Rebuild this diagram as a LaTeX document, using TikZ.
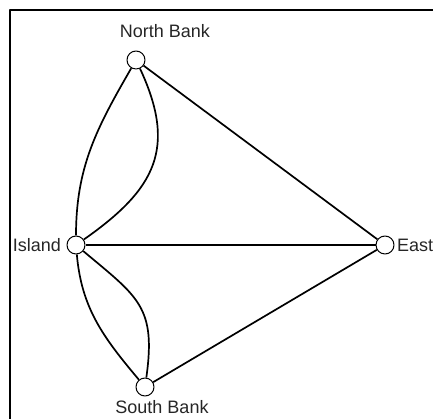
\documentclass[tikz,border=0pt]{standalone}
\usepackage{fontspec}
\setmainfont{Liberation Sans}
\begin{document}
\begin{tikzpicture}[x=1pt,y=1pt,line join=round,
  vertex/.style={circle,draw,fill=white,inner sep=0pt,minimum size=18pt,line width=1pt},
  bridge/.style={line width=1.7pt},
  place/.style={font=\fontsize{18}{21}\selectfont,text=black!85,inner sep=0pt}]
  \useasboundingbox (0,0) rectangle (433,419);
  \draw[line width=2pt] (10,0) -- (10,409) -- (433,409);
  % land masses
  \node[vertex] (N) at (136,359) {};
  \node[vertex] (I) at (76,174) {};
  \node[vertex] (E) at (385,174) {};
  \node[vertex] (S) at (145,32) {};
  \node[place] (Nl) at (165,388) {North Bank};
  \node[place] (Sl) at (162,12) {South Bank};
  \node[place,anchor=east] (Il) at (61,174) {Island};
  \node[place,anchor=west] (El) at (397,174) {East};
  % bridges
  \draw[bridge] (I) to[out=90,in=240] (N);
  \draw[bridge] (I) to[out=35,in=-65,looseness=1.25] (N);
  \draw[bridge] (I) to[out=-85,in=130] (S);
  \draw[bridge] (I) to[out=-40,in=82,looseness=1.3] (S);
  \foreach \p in {N,I,S} \draw[bridge] (\p) -- (E);
\end{tikzpicture}
\end{document}
